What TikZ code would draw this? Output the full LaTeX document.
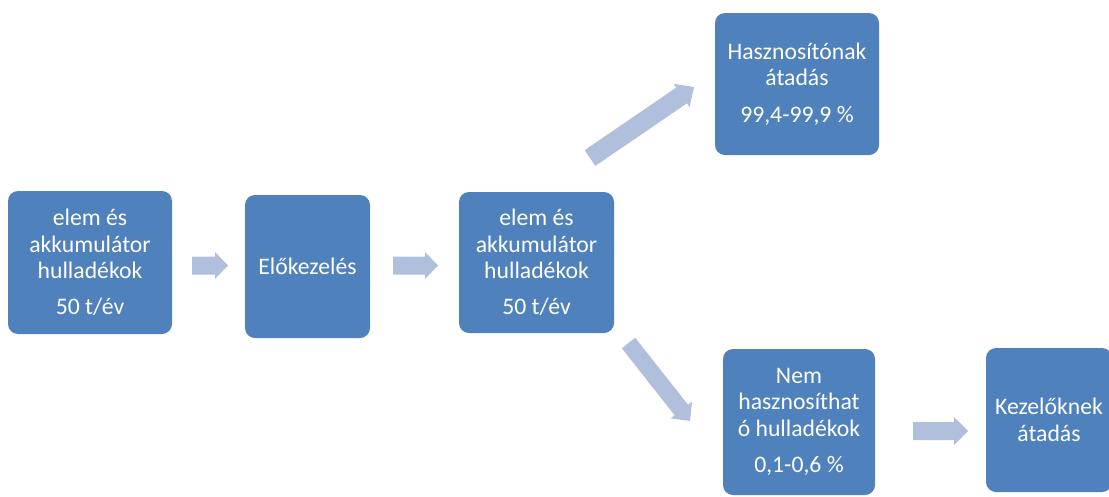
\documentclass[tikz,border=0pt]{standalone}
\usepackage{fontspec}
\setmainfont{Carlito}
\usetikzlibrary{calc}
\definecolor{boxblue}{HTML}{4F81BD}
\definecolor{arrowblue}{HTML}{B0C0DC}
\newcommand{\blockarrow}[6]{%
  % #1 name, #2 tail, #3 tip, #4 shaft half width, #5 head half width, #6 head length
  \coordinate (#1-t) at #2;
  \coordinate (#1-e) at #3;
  \coordinate (#1-hb) at ($(#1-e)!#6!(#1-t)$);
  \fill[arrowstyle] ($(#1-t)!#4!90:(#1-e)$) -- ($(#1-hb)!#4!90:(#1-e)$)
    -- ($(#1-hb)!#5!90:(#1-e)$) -- (#1-e) -- ($(#1-hb)!#5!-90:(#1-e)$)
    -- ($(#1-hb)!#4!-90:(#1-e)$) -- ($(#1-t)!#4!-90:(#1-e)$) -- cycle;
}
\begin{document}
\begin{tikzpicture}[x=1pt,y=-1pt,
  box/.style={fill=boxblue, rounded corners=10pt, inner sep=0pt, outer sep=0pt,
    text=white, align=center,
    font=\fontsize{23.7}{26.5}\selectfont},
  arrowstyle/.style={fill=arrowblue}]
\useasboundingbox (0,0) rectangle (1109,496);
\fill[white] (0,0) rectangle (1109,496);

\node[box, minimum width=164pt, minimum height=143pt] (b1) at (90,262.5)
  {elem és\\akkumulátor\\hulladékok\\[9.5pt]50 t/év};
\node[box, minimum width=125pt, minimum height=143pt] (b2) at (307.5,266.5)
  {Előkezelés};
\node[box, minimum width=155pt, minimum height=141pt] (b3) at (536.5,262.5)
  {elem és\\akkumulátor\\hulladékok\\[9.5pt]50 t/év};
\node[box, minimum width=164pt, minimum height=142pt] (b4) at (797,84)
  {Hasznosítónak\\átadás\\[10pt]99,4-99,9 \%};
\node[box, minimum width=152pt, minimum height=146pt] (b5) at (799,422)
  {Nem\\hasznosíthat\\ó hulladékok\\[10pt]0,1-0,6 \%};
\node[box, minimum width=126pt, minimum height=144pt] (b6) at (1049,420)
  {Kezelőknek\\átadás};

\blockarrow{a1}{(192,265.5)}{(228,265.5)}{9pt}{13.5pt}{13pt}
\blockarrow{a2}{(393,265.5)}{(438,265.5)}{9pt}{13.5pt}{13pt}
\blockarrow{a3}{(590,158)}{(694,87)}{9.5pt}{14pt}{15pt}
\blockarrow{a4}{(628.5,343)}{(690,421)}{8.5pt}{13.5pt}{14pt}
\blockarrow{a5}{(913,431)}{(968,431)}{9pt}{14pt}{14pt}
\end{tikzpicture}
\end{document}
